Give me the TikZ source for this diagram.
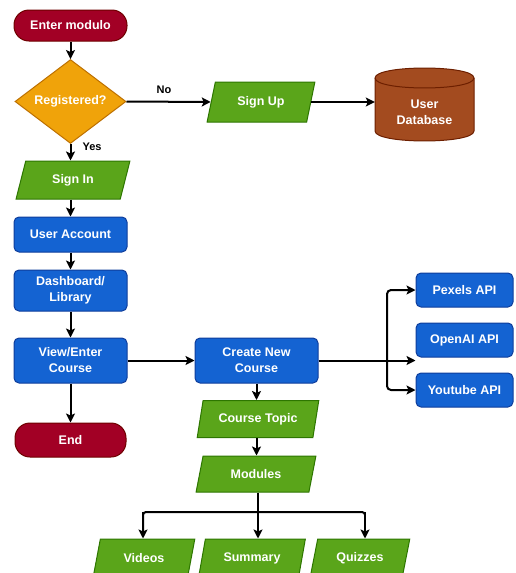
\documentclass[tikz,border=0pt]{standalone}
\usepackage{fontspec}
\setmainfont{Liberation Sans}
\usetikzlibrary{shapes.geometric,arrows.meta}
\definecolor{cred}{HTML}{A20025}
\definecolor{creddk}{HTML}{6F0000}
\definecolor{corange}{HTML}{F0A30A}
\definecolor{corangedk}{HTML}{BD7000}
\definecolor{cgreen}{HTML}{5AA51A}
\definecolor{cgreendk}{HTML}{2D7600}
\definecolor{cblue}{HTML}{1463D2}
\definecolor{cbluedk}{HTML}{0E3D9C}
\definecolor{cbrown}{HTML}{A34B1F}
\definecolor{cbrowndk}{HTML}{6D1F00}
\begin{document}
\begin{tikzpicture}[x=1pt,y=-1pt,
  lbl/.style={text=white, font=\fontsize{12.5}{16}\selectfont\bfseries, align=center, inner sep=0pt},
  box/.style={lbl, rectangle, rounded corners=5pt, draw=cbluedk, fill=cblue, line width=1pt},
  term/.style={lbl, rectangle, rounded corners=15pt, draw=creddk, fill=cred, line width=1pt},
  dia/.style={lbl, diamond, draw=corangedk, fill=corange, line width=1pt},
  para/.style={lbl, trapezium, trapezium left angle=70, trapezium right angle=110, trapezium stretches=true, draw=cgreendk, fill=cgreen, line width=1pt},
  ar/.style={-{Stealth[length=9pt,width=9pt,inset=2pt]}, line width=2pt, black},
  ln/.style={line width=2pt, black},
  edgetext/.style={font=\fontsize{11}{13}\selectfont\bfseries, text=black, inner sep=0pt}
]
\useasboundingbox (0,0) rectangle (515,573);
\clip (0,0) rectangle (515,573);

% left column
\node[term, minimum width=113pt, minimum height=31pt] (enter) at (70.5,25.5) {Enter modulo};
\node[dia, minimum width=111pt, minimum height=77pt] (reg) at (70.5,101.5) {Registered?};
\node[para, minimum width=114pt, minimum height=38pt] (signin) at (73,180) {Sign In};
\node[box, minimum width=113pt, minimum height=35pt] (account) at (70.5,234.5) {User Account};
\node[box, minimum width=113pt, minimum height=41pt] (dash) at (70.5,290.5) {Dashboard/\\Library};
\node[box, minimum width=113pt, minimum height=45pt] (view) at (70.5,360.5) {View/Enter\\Course};
\node[term, minimum width=111pt, minimum height=34pt] (end) at (70.5,440) {End};

% top right
\node[para, minimum width=108pt, minimum height=40pt] (signup) at (261,102) {Sign Up};
\fill[cbrown, draw=cbrowndk, line width=1pt]
  (375,78) -- (375,131) .. controls (375,144.3) and (474,144.3) .. (474,131)
  -- (474,78) .. controls (474,64.7) and (375,64.7) .. (375,78) -- cycle;
\draw[cbrowndk, line width=1pt] (375,78) .. controls (375,91.3) and (474,91.3) .. (474,78);
\node[minimum width=99pt, minimum height=73pt, inner sep=0pt] (db) at (424.5,104.5) {};
\node[lbl] (dbtext) at (424.5,112) {User\\Database};

% middle right
\node[box, minimum width=123pt, minimum height=45pt] (create) at (256.5,360.5) {Create New\\Course};
\node[box, minimum width=97pt, minimum height=34pt] (pexels) at (464.5,290) {Pexels API};
\node[box, minimum width=97pt, minimum height=34pt] (openai) at (464.5,340) {OpenAI API};
\node[box, minimum width=97pt, minimum height=34pt] (youtube) at (464.5,390) {Youtube API};

% lower chain
\node[para, minimum width=122pt, minimum height=37pt] (topic) at (258,419) {Course Topic};
\node[para, minimum width=120pt, minimum height=36pt] (modules) at (256,474) {Modules};
\node[para, minimum width=102pt, minimum height=38pt] (videos) at (144,558) {Videos};
\node[para, minimum width=107pt, minimum height=38pt] (summary) at (252,558) {Summary};
\node[para, minimum width=100pt, minimum height=38pt] (quizzes) at (360,558) {Quizzes};

% connectors
\draw[ar] (enter) -- (reg);
\draw[ar] (reg.east) -- (signup.west);
\node[edgetext] (no) at (164,90) {No};
\draw[ar] (signup.east) -- (db.west |- signup.east);
\draw[ar] (reg.south) -- (reg.south |- signin.north);
\node[edgetext] (yes) at (92,147) {Yes};
\draw[ar] (signin.south -| account.north) -- (account.north);
\draw[ar] (account) -- (dash);
\draw[ar] (dash) -- (view);
\draw[ar] (view) -- (end);
\draw[ar] (view) -- (create);
\draw[ar] (create.south) -- (create.south |- topic.north);
\draw[ar] (topic.south -| create.south) -- (create.south |- modules.north);

\coordinate (jr) at (387,360.5);
\draw[ln] (create.east) -- (jr);
\draw[ar, rounded corners=4pt] (jr) |- (pexels.west);
\draw[ar] (jr) -- (openai.west |- jr) ;
\draw[ar, rounded corners=4pt] (jr) |- (youtube.west);

\coordinate (jm) at (258,512);
\coordinate (jl) at (143,512);
\coordinate (jq) at (365,512);
\draw[ln] (modules.south -| jm) -- (jm);
\draw[ln, rounded corners=3pt] (jl |- videos.north) ++(0,-3) -- (jl) -- (jq) -- ++(0,3);
\draw[ar] (jl) -- (jl |- videos.north);
\draw[ar] (jm) -- (jm |- summary.north);
\draw[ar] (jq) -- (jq |- quizzes.north);
\end{tikzpicture}
\end{document}
